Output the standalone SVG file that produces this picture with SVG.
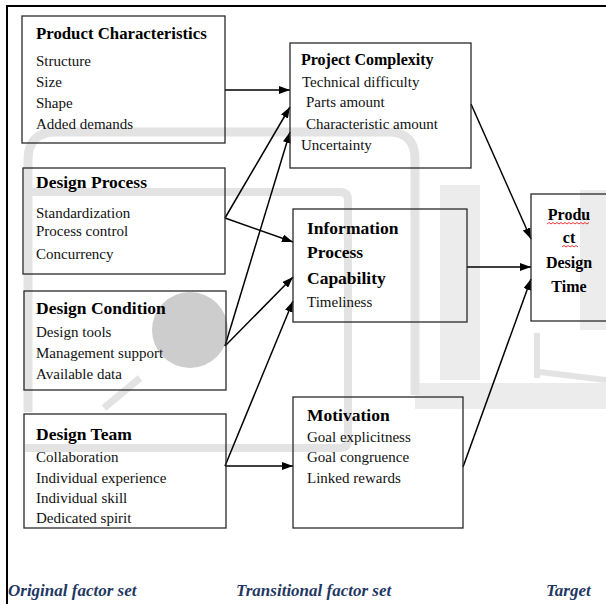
<svg xmlns="http://www.w3.org/2000/svg" width="606" height="604" viewBox="0 0 606 604">
  <style>
    .box { fill: none; stroke: #2a2a2a; stroke-width: 1.3; }
    .title { font-family: "Liberation Serif", "Times New Roman", serif; font-weight: bold; font-size: 17.5px; fill: #000; }
    .item { font-family: "Liberation Serif", "Times New Roman", serif; font-size: 15px; fill: #111; }
    .target { font-family: "Liberation Serif", "Times New Roman", serif; font-weight: bold; font-size: 16px; fill: #000; text-anchor: middle; }
    .legend { font-family: "Liberation Serif", "Times New Roman", serif; font-weight: bold; font-style: italic; font-size: 17px; fill: #1f3864; }
    .link { stroke: #000; stroke-width: 1.5; fill: none; marker-end: url(#arrow); }
    .wm { fill: none; stroke: #e3e3e3; stroke-width: 9; }
    .wm2 { fill: #ececec; stroke: none; }
  </style>
  <defs>
    <marker id="arrow" markerUnits="userSpaceOnUse" markerWidth="11" markerHeight="8" refX="11" refY="4" orient="auto">
      <path d="M0,0 L11,4 L0,8 z" fill="#000"/>
    </marker>
  </defs>

  <rect x="0" y="0" width="606" height="604" fill="#fff"/>

  <!-- faint background logo -->
  <g id="watermark">
    <rect class="wm2" x="440" y="185" width="40" height="195"/>
    <rect class="wm2" x="580" y="190" width="26" height="140"/>
    <path class="wm" style="stroke-width:26;stroke:#ececec" d="M415 396 L606 396"/>
    <path class="wm" d="M28 412 L28 160 Q28 132 56 132 L388 132 Q415 132 415 159 L415 395"/>
    <path class="wm" style="stroke-width:8" d="M25 192 L340 192 Q348 192 348 200 L348 440 Q348 448 340 448 L25 448"/>
    <path class="wm" style="stroke-width:6" d="M537 333 L537 378 M540 372 L606 380"/>
    <circle cx="190" cy="330" r="38" fill="#cdcdcd"/>
    <path class="wm" style="stroke-width:7" d="M104 408 L140 378"/>
  </g>

  <!-- outer frame -->
  <rect x="7" y="6" width="620" height="620" fill="none" stroke="#000" stroke-width="2"/>

  <g id="connectors">
    <line class="link" x1="225" y1="90" x2="290" y2="90"/>
    <line class="link" x1="225" y1="218" x2="290" y2="107"/>
    <line class="link" x1="225" y1="218" x2="293" y2="242"/>
    <line class="link" x1="225" y1="346" x2="290" y2="132"/>
    <line class="link" x1="225" y1="346" x2="293" y2="277"/>
    <line class="link" x1="225" y1="466" x2="293" y2="301"/>
    <line class="link" x1="225" y1="466" x2="293" y2="466"/>
    <line class="link" x1="471" y1="104" x2="531" y2="239"/>
    <line class="link" x1="467" y1="267" x2="531" y2="267"/>
    <line class="link" x1="463" y1="467" x2="531" y2="279"/>
  </g>

  <g id="product-characteristics">
    <rect class="box" x="22" y="16" width="203" height="127"/>
    <text class="title" x="36" y="39" style="font-size:16.8px">Product Characteristics</text>
    <text class="item" x="36" y="66">Structure</text>
    <text class="item" x="36" y="87">Size</text>
    <text class="item" x="36" y="108">Shape</text>
    <text class="item" x="36" y="129">Added demands</text>
  </g>

  <g id="design-process">
    <rect class="box" x="23" y="168" width="202" height="106"/>
    <text class="title" x="36" y="188">Design Process</text>
    <text class="item" x="36" y="218">Standardization</text>
    <text class="item" x="36" y="236">Process control</text>
    <text class="item" x="36" y="259">Concurrency</text>
  </g>

  <g id="design-condition">
    <rect class="box" x="24" y="291" width="202" height="99"/>
    <text class="title" x="36" y="314">Design Condition</text>
    <text class="item" x="36" y="337">Design tools</text>
    <text class="item" x="36" y="358">Management support</text>
    <text class="item" x="36" y="379">Available data</text>
  </g>

  <g id="design-team">
    <rect class="box" x="24" y="414" width="202" height="114"/>
    <text class="title" x="36" y="440">Design Team</text>
    <text class="item" x="36" y="462">Collaboration</text>
    <text class="item" x="36" y="483">Individual experience</text>
    <text class="item" x="36" y="503">Individual skill</text>
    <text class="item" x="36" y="523">Dedicated spirit</text>
  </g>

  <g id="project-complexity">
    <rect class="box" x="290" y="43" width="181" height="125"/>
    <text class="title" x="301" y="65" style="font-size:16px">Project Complexity</text>
    <text class="item" x="302" y="87">Technical difficulty</text>
    <text class="item" x="306" y="107">Parts amount</text>
    <text class="item" x="306" y="129">Characteristic amount</text>
    <text class="item" x="301" y="150">Uncertainty</text>
  </g>

  <g id="information-process-capability">
    <rect class="box" x="293" y="209" width="174" height="113"/>
    <text class="title" x="307" y="234">Information</text>
    <text class="title" x="307" y="258">Process</text>
    <text class="title" x="307" y="284">Capability</text>
    <text class="item" x="307" y="307">Timeliness</text>
  </g>

  <g id="motivation">
    <rect class="box" x="293" y="397" width="170" height="131"/>
    <text class="title" x="307" y="421">Motivation</text>
    <text class="item" x="307" y="442">Goal explicitness</text>
    <text class="item" x="307" y="462">Goal congruence</text>
    <text class="item" x="307" y="483">Linked rewards</text>
  </g>

  <g id="product-design-time">
    <rect class="box" x="531" y="194" width="90" height="127"/>
    <text class="target" x="569" y="220">Produ</text>
    <text class="target" x="569" y="243">ct</text>
    <text class="target" x="569" y="268">Design</text>
    <text class="target" x="569" y="292">Time</text>
    <path d="M547 224 l2 -1.5 l2 1.5 l2 -1.5 l2 1.5 l2 -1.5 l2 1.5 l2 -1.5 l2 1.5 l2 -1.5 l2 1.5 l2 -1.5 l2 1.5 l2 -1.5 l2 1.5 l2 -1.5 l2 1.5 l2 -1.5 l2 1.5 l2 -1.5 l2 1.5 l2 -1.5" fill="none" stroke="#e02020" stroke-width="0.9"/>
    <path d="M562 247 l2 -1.5 l2 1.5 l2 -1.5 l2 1.5 l2 -1.5 l2 1.5 l2 -1.5 l2 1.5" fill="none" stroke="#e02020" stroke-width="0.9"/>
  </g>

  <g id="legend">
    <text class="legend" x="8" y="596">Original factor set</text>
    <text class="legend" x="236" y="596">Transitional factor set</text>
    <text class="legend" x="546" y="596">Target</text>
  </g>
</svg>
